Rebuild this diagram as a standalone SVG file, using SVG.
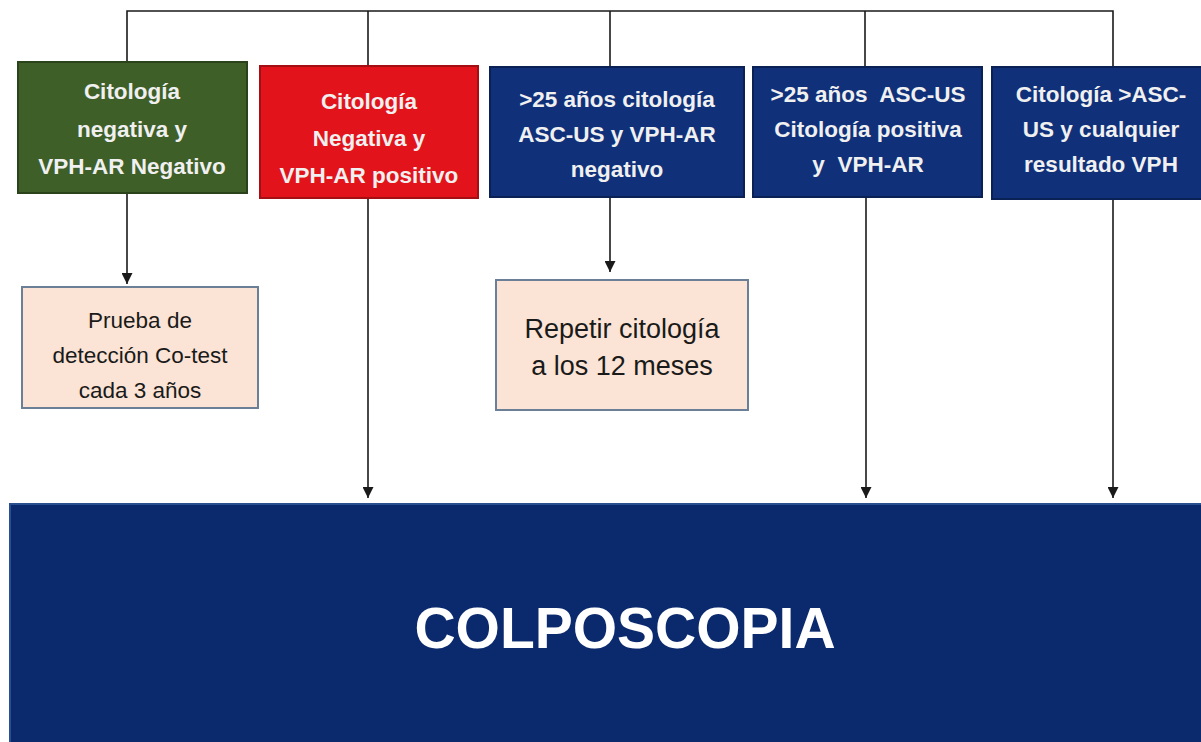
<svg xmlns="http://www.w3.org/2000/svg" width="1201" height="742" viewBox="0 0 1201 742">
<defs>
<style>
.t{font-family:"Liberation Sans","Open Sans",Arial,sans-serif;font-weight:bold;fill:#f0f0f0;text-anchor:middle;font-size:22.5px;white-space:pre}
.p{font-family:"Liberation Sans","Open Sans",Arial,sans-serif;fill:#1a1a1a;text-anchor:middle;font-size:22.5px}
.c{stroke:#1a1a1a;stroke-width:1.6;fill:none}
.peach{fill:#fbe4d5;stroke:#6b7f96;stroke-width:2}
</style>
<marker id="ah" viewBox="0 0 10 10" refX="10" refY="5" markerWidth="12" markerHeight="11" markerUnits="userSpaceOnUse" orient="auto">
<path d="M0,0 L10,5 L0,10 z" fill="#1a1a1a"/>
</marker>
</defs>
<rect x="0" y="0" width="1201" height="742" fill="#ffffff"/>
<g id="connectors">
<path class="c" d="M127,62 V11 H1113 V67"/>
<line class="c" x1="368" y1="11" x2="368" y2="66"/>
<line class="c" x1="610" y1="11" x2="610" y2="67"/>
<line class="c" x1="865" y1="11" x2="865" y2="67"/>
<line class="c" x1="127" y1="193" x2="127" y2="284" marker-end="url(#ah)"/>
<line class="c" x1="610" y1="197" x2="610" y2="272" marker-end="url(#ah)"/>
<line class="c" x1="368" y1="198" x2="368" y2="498" marker-end="url(#ah)"/>
<line class="c" x1="866" y1="197" x2="866" y2="498" marker-end="url(#ah)"/>
<line class="c" x1="1113" y1="199" x2="1113" y2="498" marker-end="url(#ah)"/>
</g>
<g id="n1">
<rect x="18" y="62" width="229" height="131" fill="#3e5f28" stroke="#2a431b" stroke-width="2"/>
<text class="t" x="132" y="99">Citología</text>
<text class="t" x="132" y="137">negativa y</text>
<text class="t" x="132" y="174">VPH-AR Negativo</text>
</g>
<g id="n2">
<rect x="260" y="66" width="218" height="132" fill="#e2131b" stroke="#a40f14" stroke-width="2"/>
<text class="t" x="369" y="109">Citología</text>
<text class="t" x="369" y="146">Negativa y</text>
<text class="t" x="369" y="183">VPH-AR positivo</text>
</g>
<g id="n3">
<rect x="490" y="67" width="254" height="130" fill="#10307a" stroke="#0a2156" stroke-width="2"/>
<text class="t" x="617" y="107">&gt;25 años citología</text>
<text class="t" x="617" y="142">ASC-US y VPH-AR</text>
<text class="t" x="617" y="177">negativo</text>
</g>
<g id="n4">
<rect x="753" y="67" width="229" height="130" fill="#10307a" stroke="#0a2156" stroke-width="2"/>
<text class="t" x="868" y="102" xml:space="preserve">&gt;25 años  ASC-US</text>
<text class="t" x="868" y="137">Citología positiva</text>
<text class="t" x="868" y="172" xml:space="preserve">y  VPH-AR</text>
</g>
<g id="n5">
<rect x="992" y="67" width="212" height="132" fill="#10307a" stroke="#0a2156" stroke-width="2"/>
<text class="t" x="1101" y="102">Citología &gt;ASC-</text>
<text class="t" x="1101" y="137">US y cualquier</text>
<text class="t" x="1101" y="172">resultado VPH</text>
</g>
<g id="n6">
<rect class="peach" x="22" y="287" width="236" height="121"/>
<text class="p" x="140" y="328">Prueba de</text>
<text class="p" x="140" y="363">detección Co-test</text>
<text class="p" x="140" y="398">cada 3 años</text>
</g>
<g id="n7">
<rect class="peach" x="496" y="280" width="252" height="130"/>
<text class="p" x="622" y="338" style="font-size:27px">Repetir citología</text>
<text class="p" x="622" y="375" style="font-size:27px">a los 12 meses</text>
</g>
<g id="n8">
<rect x="10" y="504" width="1195" height="245" fill="#0b2a6d" stroke="#2a4f8f" stroke-width="2"/>
<text class="t" x="625" y="648" style="font-size:57px;fill:#ffffff">COLPOSCOPIA</text>
</g>
</svg>
